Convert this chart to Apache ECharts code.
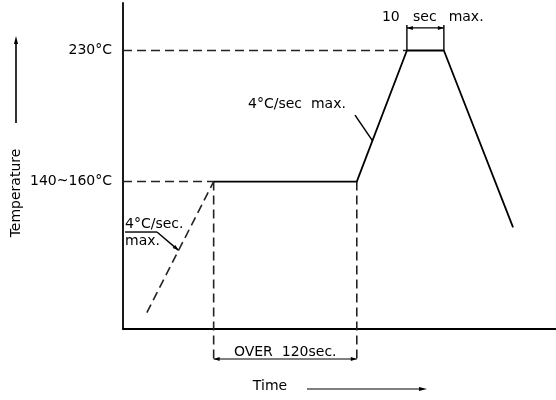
<!DOCTYPE html>
<html><head><meta charset="utf-8">
<script src="https://cdn.jsdelivr.net/npm/echarts@6/dist/echarts.min.js"></script>
<style>html,body{margin:0;padding:0;background:#fff}#c{width:556px;height:400px}</style>
</head><body><div id="c"></div>
<script>
// ---- data (time in seconds, temperature in °C) ----
const preheatRamp = [[20, 70], [76, 150]];
const profile = [[76, 150], [196, 150], [238, 230], [269, 230], [327, 122]];
const peakRef = [[0, 230], [238, 230]];
const soakRef = [[0, 150], [76, 150]];
const soakStartDrop = [[76, 150], [76, 41.1]];
const soakEndDrop = [[196, 150], [196, 41.1]];
const yTickValues = [150, 230];
const yTickLabels = ['140~160°C', '230°C'];
const xRange = [0, 363];
const yRange = [60, 259];
// annotation anchors (seconds, °C)
const soakDim = [76, 196, 41.7];          // from, to, temp
const soakDimLabel = ['OVER  120sec.', 136, 46.0];
const peakDim = [238, 269, 230, 245.6, 243.8]; // from, to, base, top, arrow temp
const peakLabels = [['10', 232, 250.5], ['sec', 253, 250.5], ['max.', 273, 250.5]];
const rampLabel = ['4°C/sec  max.', 104.8, 197.4];
const rampLeader = [[194.5, 190.6], [209.1, 175]];
const preLabels = [['4°C/sec.', 1.7, 124], ['max.', 1.7, 113.4]];
const preLeader = [[1.7, 119.2], [28.5, 119.2], [46.6, 108]];

const FONT = '14px "DejaVu Sans"';
const chart = echarts.init(document.getElementById('c'));

function lineSeries(data, dashed, color) {
  return {
    type: 'line', data: data, symbol: 'none', clip: false, silent: true,
    lineStyle: { color: color, width: dashed ? 1.6 : 1.8, type: dashed ? [9, 5] : 'solid' }
  };
}

function head(tip, from, len, wid) {
  const dx = tip[0] - from[0], dy = tip[1] - from[1];
  const L = Math.sqrt(dx * dx + dy * dy) || 1;
  const ux = dx / L, uy = dy / L;
  const bx = tip[0] - ux * len, by = tip[1] - uy * len;
  return {
    type: 'polygon',
    shape: { points: [tip, [bx - uy * wid, by + ux * wid], [bx + uy * wid, by - ux * wid]] },
    style: { fill: '#000' }
  };
}
function seg(a, b, w) {
  return { type: 'line', shape: { x1: a[0], y1: a[1], x2: b[0], y2: b[1] }, style: { stroke: '#000', lineWidth: w || 1.4 } };
}
function txt(s, p, align) {
  return { type: 'text', style: { text: s, x: p[0], y: p[1], font: FONT, fill: '#000', align: align || 'left', verticalAlign: 'middle' } };
}

function renderAnnotations(params, api) {
  const c = (x, y) => api.coord([x, y]);
  const kids = [];
  // soak dimension
  const a1 = c(soakDim[0], soakDim[2]), a2 = c(soakDim[1], soakDim[2]);
  kids.push(seg(a1, a2, 1.1));
  kids.push(head(a1, a2, 6, 2));
  kids.push(head(a2, a1, 6, 2));
  kids.push(txt(soakDimLabel[0], c(soakDimLabel[1], soakDimLabel[2]), 'center'));
  // peak dimension
  kids.push(seg(c(peakDim[0], peakDim[2]), c(peakDim[0], peakDim[3]), 1.4));
  kids.push(seg(c(peakDim[1], peakDim[2]), c(peakDim[1], peakDim[3]), 1.4));
  const p1 = c(peakDim[0], peakDim[4]), p2 = c(peakDim[1], peakDim[4]);
  kids.push(seg(p1, p2, 1.1));
  kids.push(head(p1, p2, 6, 2));
  kids.push(head(p2, p1, 6, 2));
  kids.push(txt(peakLabels[0][0], c(peakLabels[0][1], peakLabels[0][2]), 'right'));
  kids.push(txt(peakLabels[1][0], c(peakLabels[1][1], peakLabels[1][2]), 'center'));
  kids.push(txt(peakLabels[2][0], c(peakLabels[2][1], peakLabels[2][2]), 'left'));
  // ramp label
  kids.push(txt(rampLabel[0], c(rampLabel[1], rampLabel[2]), 'left'));
  kids.push(seg(c(rampLeader[0][0], rampLeader[0][1]), c(rampLeader[1][0], rampLeader[1][1]), 1.5));
  // preheat label
  preLabels.forEach(l => kids.push(txt(l[0], c(l[1], l[2]), 'left')));
  const q = preLeader.map(p => c(p[0], p[1]));
  kids.push(seg(q[0], q[1], 1.4));
  kids.push(seg(q[1], q[2], 1.4));
  kids.push(head(q[2], q[1], 6, 2));
  return { type: 'group', children: kids };
}

chart.setOption({
  animation: false,
  grid: { left: 123, right: 0, top: 3, bottom: 71 },
  xAxis: {
    type: 'value', min: xRange[0], max: xRange[1],
    axisLine: { show: true, onZero: false, lineStyle: { color: '#000', width: 1.8 } },
    axisTick: { show: false }, axisLabel: { show: false }, splitLine: { show: false }
  },
  yAxis: {
    type: 'value', min: yRange[0], max: yRange[1],
    axisLine: { show: true, onZero: false, lineStyle: { color: '#000', width: 1.8 } },
    axisTick: { show: false }, splitLine: { show: false },
    axisLabel: {
      customValues: yTickValues, margin: 11, color: '#000', fontSize: 14, fontFamily: 'DejaVu Sans',
      formatter: v => yTickLabels[yTickValues.indexOf(v)] || ''
    }
  },
  graphic: [
    { type: 'text', x: 16, y: 193, rotation: Math.PI / 2,
      style: { text: 'Temperature', font: FONT, fill: '#000', align: 'center', verticalAlign: 'middle' } },
    { type: 'line', shape: { x1: 16, y1: 123, x2: 16, y2: 42 }, style: { stroke: '#000', lineWidth: 1.6 } },
    { type: 'polygon', shape: { points: [[16, 36], [14, 44], [18, 44]] }, style: { fill: '#000' } },
    { type: 'text', x: 270, y: 386,
      style: { text: 'Time', font: FONT, fill: '#000', align: 'center', verticalAlign: 'middle' } },
    { type: 'line', shape: { x1: 307, y1: 389, x2: 421, y2: 389 }, style: { stroke: '#000', lineWidth: 1.2 } },
    { type: 'polygon', shape: { points: [[427, 389], [419, 387], [419, 391]] }, style: { fill: '#000' } }
  ],
  series: [
    lineSeries(peakRef, true, '#222'),
    lineSeries(soakRef, true, '#222'),
    lineSeries(soakStartDrop, true, '#222'),
    lineSeries(soakEndDrop, true, '#222'),
    lineSeries(preheatRamp, true, '#222'),
    lineSeries(profile, false, '#000'),
    { type: 'custom', data: [[136, 100]], clip: false, silent: true, renderItem: renderAnnotations }
  ]
});
</script></body></html>
